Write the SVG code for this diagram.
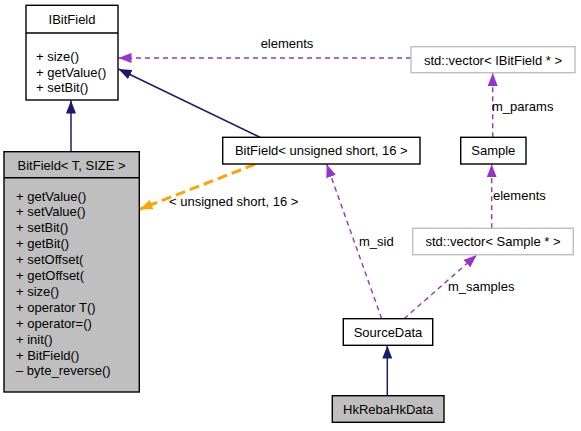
<svg xmlns="http://www.w3.org/2000/svg" width="581" height="431" viewBox="0 0 581 431">
<style>
text{font-family:"Liberation Sans",Arial,Helvetica,sans-serif;font-size:13px;fill:#000}
.c{text-anchor:middle}
.box{fill:#fff;stroke:#000;stroke-width:1.4}
.grey{fill:#bfbfbf;stroke:#000;stroke-width:1.4}
.ext{fill:#fff;stroke:#bfbfbf;stroke-width:1.4}
.inh{fill:none;stroke:#191970;stroke-width:1.5}
.use{fill:none;stroke:#9a32cd;stroke-width:1.4;stroke-dasharray:5,4}
.tpl{fill:none;stroke:#ffa500;stroke-width:3;stroke-dasharray:10,5}
</style>
<defs>
<marker id="aBlue" viewBox="0 0 13 10" refX="13" refY="5" markerWidth="13" markerHeight="10" markerUnits="userSpaceOnUse" orient="auto"><path d="M0,0L13,5L0,10z" fill="#191970"/></marker>
<marker id="aPurple" viewBox="0 0 13 10" refX="13" refY="5" markerWidth="13" markerHeight="10" markerUnits="userSpaceOnUse" orient="auto"><path d="M0,0L13,5L0,10z" fill="#9a32cd"/></marker>
<marker id="aOrange" viewBox="0 0 13 10" refX="13" refY="5" markerWidth="13" markerHeight="10" markerUnits="userSpaceOnUse" orient="auto"><path d="M0,0L13,5L0,10z" fill="#ffa500"/></marker>
</defs>
<g id="connectors">
<line class="inh" x1="71" y1="151.7" x2="71" y2="100.5" marker-end="url(#aBlue)"/>
<line class="inh" x1="260" y1="137.3" x2="118.5" y2="69" marker-end="url(#aBlue)"/>
<line class="use" x1="411" y1="58" x2="118.5" y2="58" marker-end="url(#aPurple)"/>
<text class="c" x="287" y="47.5">elements</text>
<line class="use" x1="492.7" y1="137.3" x2="492.7" y2="73" marker-end="url(#aPurple)"/>
<text x="492" y="110.5">m_params</text>
<line class="use" x1="491.7" y1="228.3" x2="491.7" y2="164.3" marker-end="url(#aPurple)"/>
<text x="493" y="200">elements</text>
<line class="use" x1="381.7" y1="318.7" x2="326.7" y2="164.3" marker-end="url(#aPurple)"/>
<text x="359" y="245.5">m_sid</text>
<line class="use" x1="404" y1="318.7" x2="476.7" y2="255" marker-end="url(#aPurple)"/>
<text x="448" y="291">m_samples</text>
<line class="inh" x1="387.3" y1="395.7" x2="387.3" y2="345.6" marker-end="url(#aBlue)"/>
<line class="tpl" x1="255" y1="164.3" x2="139.5" y2="209.3" marker-end="url(#aOrange)"/>
<text x="169" y="206">&lt; unsigned short, 16 &gt;</text>
</g>
<g id="IBitField">
<rect class="box" x="26" y="5.3" width="92" height="94.7"/>
<line x1="26" y1="33" x2="118" y2="33" stroke="#000" stroke-width="1.4"/>
<text class="c" x="72" y="23.5">IBitField</text>
<text x="36" y="60.5">+ size()</text>
<text x="36" y="76.5">+ getValue()</text>
<text x="36" y="92">+ setBit()</text>
</g>
<g id="BitFieldT">
<rect class="grey" x="4" y="151.7" width="135.3" height="240.3"/>
<line x1="4" y1="177.7" x2="139.3" y2="177.7" stroke="#000" stroke-width="1.4"/>
<text class="c" x="71.6" y="169.5">BitField&lt; T, SIZE &gt;</text>
<text x="16" y="200.5">+ getValue()</text>
<text x="16" y="216.4">+ setValue()</text>
<text x="16" y="232.3">+ setBit()</text>
<text x="16" y="248.2">+ getBit()</text>
<text x="16" y="264.1">+ setOffset(</text>
<text x="16" y="280">+ getOffset(</text>
<text x="16" y="295.9">+ size()</text>
<text x="16" y="311.8">+ operator T()</text>
<text x="16" y="327.7">+ operator=()</text>
<text x="16" y="343.6">+ init()</text>
<text x="16" y="359.5">+ BitField()</text>
<text x="16" y="375.4">&#8211; byte_reverse()</text>
</g>
<g id="BitFieldUS16">
<rect class="box" x="222.7" y="137.3" width="197.3" height="26.7"/>
<text class="c" x="321.3" y="155.3">BitField&lt; unsigned short, 16 &gt;</text>
</g>
<g id="VectorIBitField">
<rect class="ext" x="411" y="46.7" width="164" height="26"/>
<text class="c" x="493" y="64.5">std::vector&lt; IBitField * &gt;</text>
</g>
<g id="Sample">
<rect class="box" x="460.7" y="137.3" width="65.3" height="26.7"/>
<text class="c" x="493.3" y="155.3">Sample</text>
</g>
<g id="VectorSample">
<rect class="ext" x="412.7" y="228.3" width="160.6" height="26.4"/>
<text class="c" x="493" y="245.5">std::vector&lt; Sample * &gt;</text>
</g>
<g id="SourceData">
<rect class="box" x="343.3" y="318.7" width="89.4" height="26.6"/>
<text class="c" x="388" y="336.5">SourceData</text>
</g>
<g id="HkRebaHkData">
<rect class="grey" x="332.3" y="395.7" width="111.7" height="26.6"/>
<text class="c" x="388.2" y="413.5">HkRebaHkData</text>
</g>
</svg>
